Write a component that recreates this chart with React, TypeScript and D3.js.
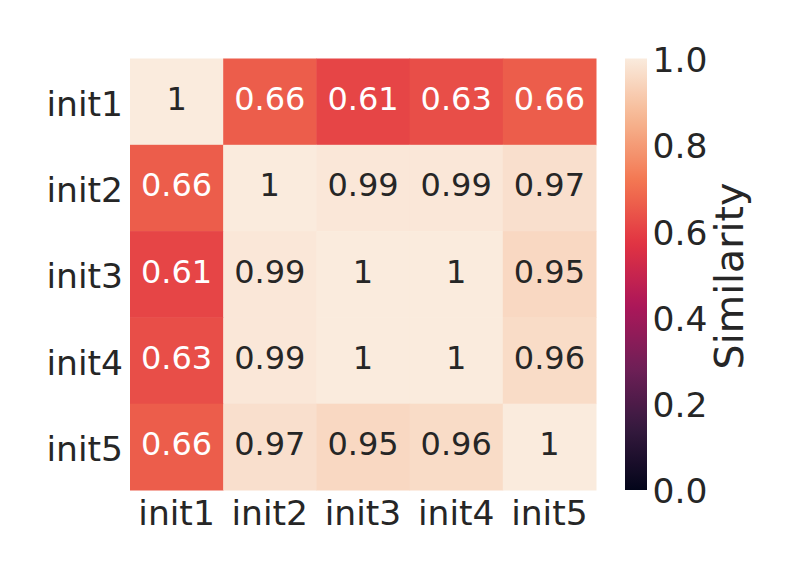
import React from "react";
import * as d3 from "d3";

const labels = ["init1", "init2", "init3", "init4", "init5"];
const values: number[][] = [
  [1.0, 0.66, 0.61, 0.63, 0.66],
  [0.66, 1.0, 0.99, 0.99, 0.97],
  [0.61, 0.99, 1.0, 1.0, 0.95],
  [0.63, 0.99, 1.0, 1.0, 0.96],
  [0.66, 0.97, 0.95, 0.96, 1.0],
];
const cbTicks = [0, 0.2, 0.4, 0.6, 0.8, 1.0];
const cbLabel = "Similarity";

// rocket colormap anchor colours
const rocketPos = [0, 1 / 7, 2 / 7, 3 / 7, 4 / 7, 5 / 7, 6 / 7, 1];
const rocketCols = ["#03051a", "#35193e", "#701f57", "#ad1759", "#e13342", "#f37651", "#f6b48f", "#faebdd"];
const rocket = d3.scaleLinear<string>().domain(rocketPos).range(rocketCols).interpolate(d3.interpolateRgb);

function luminance(c: string) {
  const rgb = d3.rgb(c);
  const f = (v: number) => {
    v /= 255;
    return v <= 0.03928 ? v / 12.92 : Math.pow((v + 0.055) / 1.055, 2.4);
  };
  return 0.2126 * f(rgb.r) + 0.7152 * f(rgb.g) + 0.0722 * f(rgb.b);
}

export default function App() {
  const W = 792, H = 576;
  const left = 130, right = 596, top = 58.5, bottom = 490;
  const x = d3.scaleBand<string>().domain(labels).range([left, right]);
  const y = d3.scaleBand<string>().domain(labels).range([top, bottom]);
  const color = d3.scaleLinear().domain([0, 1]).range([0, 1]).clamp(true);
  const fmt = d3.format(".2~g");
  const cbX = 625, cbW = 22;
  const cbY = d3.scaleLinear().domain([0, 1]).range([bottom, top]);
  const stops = d3.range(0, 1.0001, 0.02);
  const textColor = "#262626";
  const font = "'DejaVu Sans', sans-serif";
  const tickSize = 34.5;

  return (
    <div style={{ position: "absolute", left: 0, top: 0 }}>
      <svg width={W} height={H} style={{ display: "block", background: "white" }} fontFamily={font}>
        <defs>
          <linearGradient id="cb" x1="0" y1="1" x2="0" y2="0">
            {stops.map((s) => (
              <stop key={s} offset={s} stopColor={rocket(s)} />
            ))}
          </linearGradient>
        </defs>
        {values.map((row, i) =>
          row.map((v, j) => {
            const fill = rocket(color(v));
            const tc = luminance(fill) > 0.408 ? textColor : "white";
            return (
              <g key={`${i}-${j}`}>
                <rect
                  x={x(labels[j])}
                  y={y(labels[i])}
                  width={x.bandwidth() + 0.5}
                  height={y.bandwidth() + 0.5}
                  fill={fill}
                />
                <text
                  x={(x(labels[j]) as number) + x.bandwidth() / 2}
                  y={(y(labels[i]) as number) + y.bandwidth() / 2}
                  dy="0.26em"
                  textAnchor="middle"
                  fontSize={32}
                  fill={tc}
                >
                  {fmt(v)}
                </text>
              </g>
            );
          })
        )}
        {labels.map((l) => (
          <text
            key={"y" + l}
            x={123}
            y={(y(l) as number) + y.bandwidth() / 2}
            dy="0.41em"
            textAnchor="end"
            fontSize={tickSize}
            fill={textColor}
          >
            {l}
          </text>
        ))}
        {labels.map((l) => (
          <text
            key={"x" + l}
            x={(x(l) as number) + x.bandwidth() / 2}
            y={524.5}
            textAnchor="middle"
            fontSize={tickSize}
            fill={textColor}
          >
            {l}
          </text>
        ))}
        <rect x={cbX} y={top} width={cbW} height={bottom - top} fill="url(#cb)" />
        {cbTicks.map((t) => (
          <text key={"cb" + t} x={652.5} y={cbY(t)} dy="0.39em" fontSize={tickSize} fill={textColor}>
            {d3.format(".1f")(t)}
          </text>
        ))}
        <text
          transform={`translate(743, 276) rotate(-90)`}
          textAnchor="middle"
          fontSize={39.5}
          fill={textColor}
        >
          {cbLabel}
        </text>
      </svg>
    </div>
  );
}
